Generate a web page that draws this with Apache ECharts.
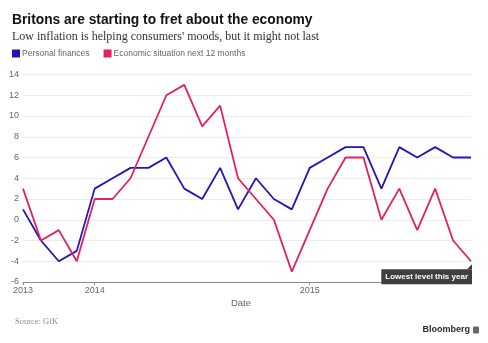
<!DOCTYPE html>
<html>
<head>
<meta charset="utf-8">
<script src="https://cdn.jsdelivr.net/npm/echarts@6/dist/echarts.min.js"></script>
<style>
  html, body { margin: 0; padding: 0; background: #fff; }
  #chart { width: 488px; height: 343px; }
</style>
</head>
<body>
<div id="chart"></div>
<script>
// Periods: quarterly through 2013, monthly from 2014
const periods = [
  '2013 Q1', '2013 Q2', '2013 Q3', '2013 Q4',
  '2014-01', '2014-02', '2014-03', '2014-04', '2014-05', '2014-06',
  '2014-07', '2014-08', '2014-09', '2014-10', '2014-11', '2014-12',
  '2015-01', '2015-02', '2015-03', '2015-04', '2015-05', '2015-06',
  '2015-07', '2015-08', '2015-09', '2015-10'
];
const yearTicks = ['2013', '2014', '2015'];
const personalFinances = [1, -2, -4, -3, 3, 4, 5, 5, 6, 3, 2, 5, 1, 4, 2, 1, 5, 6, 7, 7, 3, 7, 6, 7, 6, 6];
const economicOutlook = [3, -2, -1, -4, 2, 2, 4, 8, 12, 13, 9, 11, 4, 2, 0, -5, -1, 3, 6, 6, 0, 3, -1, 3, -2, -4];
const seriesNames = ['Personal finances', 'Economic situation next 12 months'];
const noteText = 'Lowest level this year';

const BLUE = '#2414b4';
const PINK = '#e0225f';
const SANS = 'Liberation Sans, Arial, sans-serif';
const SERIF = 'Liberation Serif, DejaVu Serif, serif';

// first category of each year carries the year label
const yearStart = periods.map((p, i) => i === 0 || p.slice(0, 4) !== periods[i - 1].slice(0, 4));
const isYearTick = (i) => yearStart[i] && yearTicks.includes(periods[i].slice(0, 4));

const chart = echarts.init(document.getElementById('chart'), null, { renderer: 'canvas' });

const option = {
  animation: false,
  backgroundColor: '#fff',
  textStyle: { fontFamily: SANS },
  title: [
    {
      text: 'Britons are starting to fret about the economy',
      left: 12, top: 13, padding: 0,
      textStyle: { fontSize: 13.8, fontWeight: 'bold', color: '#111', fontFamily: SANS }
    },
    {
      text: "Low inflation is helping consumers' moods, but it might not last",
      left: 12, top: 31, padding: 0,
      textStyle: { fontSize: 12, fontWeight: 'normal', color: '#333', fontFamily: SERIF }
    }
  ],
  legend: {
    left: 12, top: 49, padding: 0,
    icon: 'rect', itemWidth: 8, itemHeight: 8, itemGap: 14,
    textStyle: { fontSize: 8.5, color: '#666', padding: [0, 0, 0, -3] },
    data: seriesNames
  },
  grid: { left: 23, right: 17, top: 74.5, bottom: 61, containLabel: false },
  xAxis: {
    type: 'category',
    data: periods,
    boundaryGap: false,
    axisLine: { onZero: false, lineStyle: { color: '#8a8a8a', width: 1 } },
    axisTick: { show: true, length: 3, interval: (i) => isYearTick(i), lineStyle: { color: '#8a8a8a' } },
    axisLabel: {
      interval: (i) => isYearTick(i),
      formatter: (v) => v.slice(0, 4),
      color: '#666', fontSize: 9, margin: 4
    },
    splitLine: { show: false }
  },
  yAxis: {
    type: 'value',
    min: -6, max: 14, interval: 2,
    axisLine: { show: false },
    axisTick: { show: false },
    axisLabel: { color: '#666', fontSize: 9, margin: 4 },
    splitLine: { lineStyle: { color: '#ececec', width: 1 } }
  },
  series: [
    {
      name: seriesNames[0], type: 'line', data: personalFinances,
      showSymbol: false, symbol: 'none',
      lineStyle: { color: BLUE, width: 1.8 }, itemStyle: { color: BLUE }
    },
    {
      name: seriesNames[1], type: 'line', data: economicOutlook,
      showSymbol: false, symbol: 'none',
      lineStyle: { color: PINK, width: 1.8 }, itemStyle: { color: PINK }
    }
  ]
};

chart.setOption(option);

// Annotation for the latest reading, anchored to the last point of the outlook series
const lastIdx = economicOutlook.length - 1;
const [px, py] = chart.convertToPixel({ seriesIndex: 1 }, [lastIdx, economicOutlook[lastIdx]]);
const gridBottomY = chart.convertToPixel({ yAxisIndex: 0 }, -6);

chart.setOption({
  graphic: [
    {
      type: 'text',
      x: 241, y: gridBottomY + 16,
      style: { text: 'Date', fontSize: 9.5, fill: '#666', align: 'center', verticalAlign: 'top', fontFamily: SANS }
    },
    {
      type: 'text',
      x: px + 1, y: py + 8,
      z: 10,
      style: {
        text: noteText, fontSize: 8, fontWeight: 'bold', fill: '#fff',
        align: 'right', verticalAlign: 'top',
        backgroundColor: '#3f3f3f', padding: [4, 4, 3, 4],
        fontFamily: SANS
      }
    },
    {
      type: 'polygon',
      z: 10,
      shape: { points: [[px - 4, py + 8], [px + 1, py + 8], [px + 1, py + 3]] },
      style: { fill: '#3f3f3f' }
    },
    {
      type: 'text',
      left: 15, top: 317,
      style: { text: 'Source: GfK', fontSize: 8.5, fill: '#888', fontFamily: SERIF }
    },
    {
      type: 'text',
      x: 470, y: 330,
      style: { text: 'Bloomberg', fontSize: 9, fontWeight: 'bold', fill: '#2a2a2a', align: 'right', verticalAlign: 'middle', fontFamily: SANS }
    },
    {
      type: 'rect',
      shape: { x: 473, y: 326.5, width: 6, height: 7, r: 1 },
      style: { fill: '#666' }
    }
  ]
});
</script>
</body>
</html>
